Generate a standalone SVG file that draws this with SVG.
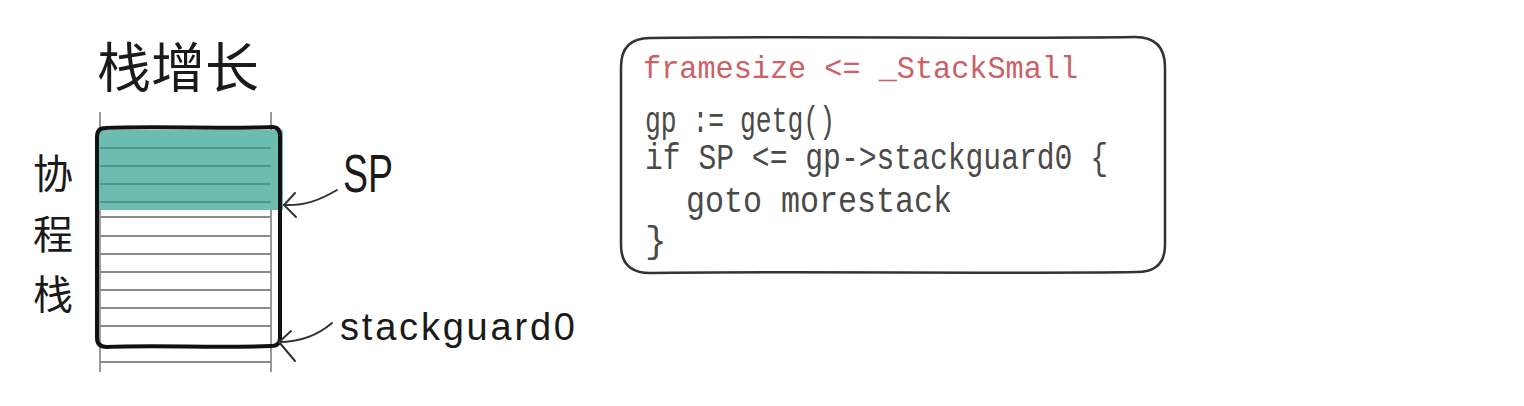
<svg xmlns="http://www.w3.org/2000/svg" width="1524" height="406" viewBox="0 0 1524 406">
<style>
.cjk{font-family:"Noto Sans CJK SC","Noto Sans CJK JP",sans-serif;fill:#1a1a1a}
.lbl{font-family:"Liberation Sans","DejaVu Sans",sans-serif;fill:#1a1a1a}
.code{font-family:"Liberation Mono","DejaVu Sans Mono",monospace;fill:#4a4a4a}
.red{fill:#cc6066}
.row{stroke:#8a8a8a;stroke-width:2}
.trow{stroke:#4f978d;stroke-width:2}
.arr{fill:none;stroke:#333;stroke-width:2;stroke-linecap:round}
</style>
<rect width="1524" height="406" fill="#fff"/>
<g id="title"><text class="cjk" x="178" y="88" font-size="54" text-anchor="middle">栈增长</text></g>
<g id="side-label">
<text class="cjk" x="53" y="188" font-size="40" text-anchor="middle">协</text>
<text class="cjk" x="53" y="249" font-size="40" text-anchor="middle">程</text>
<text class="cjk" x="53" y="309" font-size="40" text-anchor="middle">栈</text>
</g>
<g id="stack">
<line x1="100" y1="112" x2="100" y2="372" stroke="#777" stroke-width="1.5"/>
<line x1="271" y1="112" x2="271" y2="372" stroke="#777" stroke-width="1.5"/>
<rect x="98" y="130" width="185" height="80" fill="#6cbcb0"/>
<g class="trow">
<line x1="100" y1="148" x2="271" y2="148"/>
<line x1="100" y1="166" x2="271" y2="166"/>
<line x1="100" y1="184" x2="271" y2="184"/>
<line x1="100" y1="202" x2="271" y2="202"/>
</g>
<g class="row">
<line x1="100" y1="217" x2="271" y2="217"/>
<line x1="100" y1="236" x2="271" y2="236"/>
<line x1="100" y1="254" x2="271" y2="254"/>
<line x1="100" y1="272" x2="271" y2="272"/>
<line x1="100" y1="290" x2="271" y2="290"/>
<line x1="100" y1="308" x2="271" y2="308"/>
<line x1="100" y1="326" x2="271" y2="326"/>
<line x1="100" y1="362" x2="271" y2="362"/>
</g>
<path d="M105 128 C150 126 230 129 272 127 Q280 127 280 136 L280 338 Q280 346 271 346 C220 348 150 345 107 347 Q97 347 97 338 L97 137 Q97 128 105 128 Z" fill="none" stroke="#111" stroke-width="4" stroke-linejoin="round"/>
</g>
<g id="sp-label"><text class="lbl" x="343" y="192" font-size="54" textLength="50" lengthAdjust="spacingAndGlyphs">SP</text></g>
<g id="sg-label"><text class="lbl" x="340" y="340" font-size="38" textLength="235" lengthAdjust="spacing">stackguard0</text></g>
<g id="connectors">
<path class="arr" d="M337 190 C320 200 305 206 284 205"/>
<path class="arr" d="M295 193 L284 205 L296 217"/>
<path class="arr" d="M332 323 C318 335 302 342 279 342"/>
<path class="arr" d="M291 331 L279 342 L295 361"/>
</g>
<g id="code-box">
<path d="M650 38 C800 36 1000 39 1135 37 Q1165 37 1165 67 L1165 245 Q1165 272 1137 272 C1000 274 800 271 650 273 Q621 273 621 245 L621 67 Q621 38 650 38 Z" fill="#fff" stroke="#333" stroke-width="2.5"/>
<text class="code red" x="643" y="78" font-size="32" textLength="435" lengthAdjust="spacingAndGlyphs">framesize &lt;= _StackSmall</text>
<text class="code" x="645" y="132" font-size="36" textLength="190" lengthAdjust="spacingAndGlyphs">gp := getg()</text>
<text class="code" x="645" y="169" font-size="36" textLength="463" lengthAdjust="spacingAndGlyphs">if SP &lt;= gp-&gt;stackguard0 {</text>
<text class="code" x="686" y="212" font-size="36" textLength="266" lengthAdjust="spacingAndGlyphs">goto morestack</text>
<text class="code" x="645" y="252" font-size="36">}</text>
</g>
</svg>
